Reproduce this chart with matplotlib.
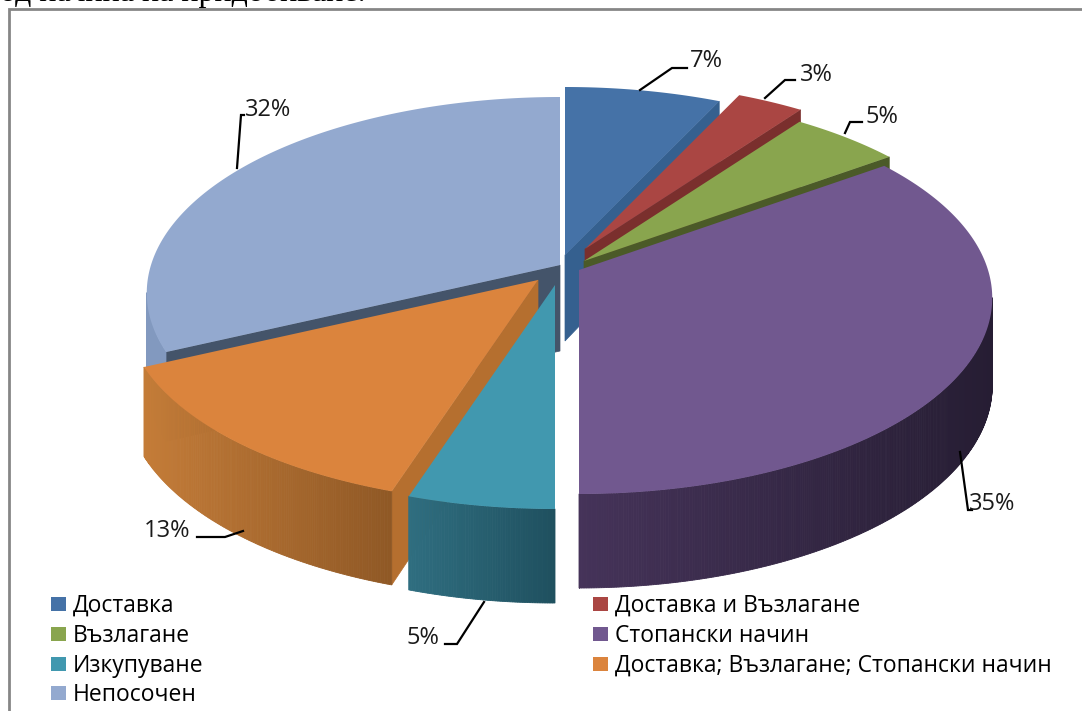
import numpy as np
import matplotlib
matplotlib.use('Agg')
import matplotlib.pyplot as plt
from matplotlib.colors import to_rgb
from matplotlib.patches import Polygon, Rectangle

# data
labels = ['Доставка', 'Доставка и Възлагане', 'Възлагане', 'Стопански начин',
          'Изкупуване', 'Доставка; Възлагане; Стопански начин', 'Непосочен']
values = [7, 3, 5, 35, 5, 13, 32]

top_colors = ['#4572a7', '#aa4643', '#89a54e', '#71588f', '#4198af', '#db843d', '#93a9cf']
edge_colors = ['#35608f', '#7a2f2d', '#4b5a28', '#2a2038', '#2f6e80', '#b56f2f', '#44546a']
wall_left = ['#35608f', '#7a2f2d', '#4b5a28', '#453359', '#2f6e80', '#c47c38', '#8299bf']
wall_right = ['#35608f', '#7a2f2d', '#4b5a28', '#261d33', '#1f505f', '#8f5825', '#8299bf']

# how far each slice is pulled out of the centre, pixels
shift_x = [0, 20, 19, 14, -10, -27, -5]
shift_y = [-13, -19, -7, 2, 17, 12, -3]
draw_order = [6, 0, 1, 2, 3, 5, 4]

CX, CY = 565, 268
RX, RY, PERSP = 409, 192, 1 / 7


def project(theta):
    # tilted disc with a bit of perspective, y grows downwards
    X, Y = np.cos(theta), np.sin(theta)
    d = 1 + PERSP * Y
    return RX * X / d, -RY * Y / d


def depth(theta):
    return 86 - 8 * np.sin(theta)


fig = plt.figure(figsize=(10.82, 7.11), dpi=100)
ax = fig.add_axes([0, 0, 1, 1])
ax.set_xlim(0, 1082)
ax.set_ylim(711, 0)
ax.axis('off')

# bit of the page text cut by the top edge
ax.text(0, 1, 'од начина на придобиване.', family='Liberation Serif', fontsize=23,
        va='baseline', ha='left', color='black', clip_on=False)

# chart frame
ax.plot([9, 9, 1083], [712, 9, 9], color='#868686', lw=2, solid_joinstyle='miter')

# start angle of each slice, clockwise from 12 o'clock
edges = np.pi / 2 - np.cumsum([0] + values) / sum(values) * 2 * np.pi

for i in draw_order:
    a0, a1 = edges[i], edges[i + 1]
    tx, ty = CX + shift_x[i], CY + shift_y[i]
    thetas = np.linspace(a0, a1, max(int(values[i] * 12), 8) + 1)
    px, py = project(thetas)
    px, py = px + tx, py + ty

    # straight cut faces, only the ones turned to the viewer
    if np.cos(a0) < 0:
        wall = [(tx, ty), (px[0], py[0]), (px[0], py[0] + depth(a0)), (tx, ty + 86)]
        ax.add_patch(Polygon(wall, closed=True, fc=edge_colors[i], ec=edge_colors[i], lw=0.5))
    if np.cos(a1) > 0:
        wall = [(tx, ty), (px[-1], py[-1]), (px[-1], py[-1] + depth(a1)), (tx, ty + 86)]
        ax.add_patch(Polygon(wall, closed=True, fc=edge_colors[i], ec=edge_colors[i], lw=0.5))

    # outer rim, shaded left to right, starts where the disc is widest
    c_l, c_r = np.array(to_rgb(wall_left[i])), np.array(to_rgb(wall_right[i]))
    xmin, xmax = px.min(), px.max()
    for k in range(len(thetas) - 1):
        if np.sin(thetas[k]) > -PERSP and np.sin(thetas[k + 1]) > -PERSP:
            continue
        t = (0.5 * (px[k] + px[k + 1]) - xmin) / (xmax - xmin)
        col = c_l + (c_r - c_l) * t
        quad = [(px[k], py[k]), (px[k + 1], py[k + 1]),
                (px[k + 1], py[k + 1] + depth(thetas[k + 1])),
                (px[k], py[k] + depth(thetas[k]))]
        ax.add_patch(Polygon(quad, closed=True, fc=col, ec=col, lw=0.6))

    # top face
    top = [(tx, ty)] + list(zip(px, py))
    ax.add_patch(Polygon(top, closed=True, fc=top_colors[i], ec='none'))

# percent labels with their leader lines
lab_x = [706, 816, 882, 992, 423, 167, 268]
lab_y = [61, 75, 117, 504, 638, 531, 110]
lead_x = [[640, 672, 687], [765, 785, 795], [845, 850, 862], [960, 968, 972],
          [484, 457, 445], [243, 225, 197], [237, 241, 244]]
lead_y = [[90, 68, 68], [98, 80, 80], [133, 122, 122], [452, 510, 510],
          [602, 644, 644], [531, 537, 537], [168, 115, 115]]
for i, v in enumerate(values):
    ax.plot(lead_x[i], lead_y[i], color='black', lw=1.6, solid_joinstyle='miter')
    ax.text(lab_x[i], lab_y[i], f'{v}%', family='Open Sans', fontsize=17,
            ha='center', va='center', color='#1a1a1a')

# legend, filled row by row in two columns
col_box = [51, 593]
row_y = [604, 634, 664, 693]
for i, name in enumerate(labels):
    row, col = i // 2, i % 2
    ax.add_patch(Rectangle((col_box[col], row_y[row] - 7), 15, 14, fc=top_colors[i], ec='none'))
    ax.text(col_box[col] + 22, row_y[row] + 2, name, family='Open Sans', fontsize=16.5,
            ha='left', va='center', color='black')

fig.savefig('out.png', dpi=100)
